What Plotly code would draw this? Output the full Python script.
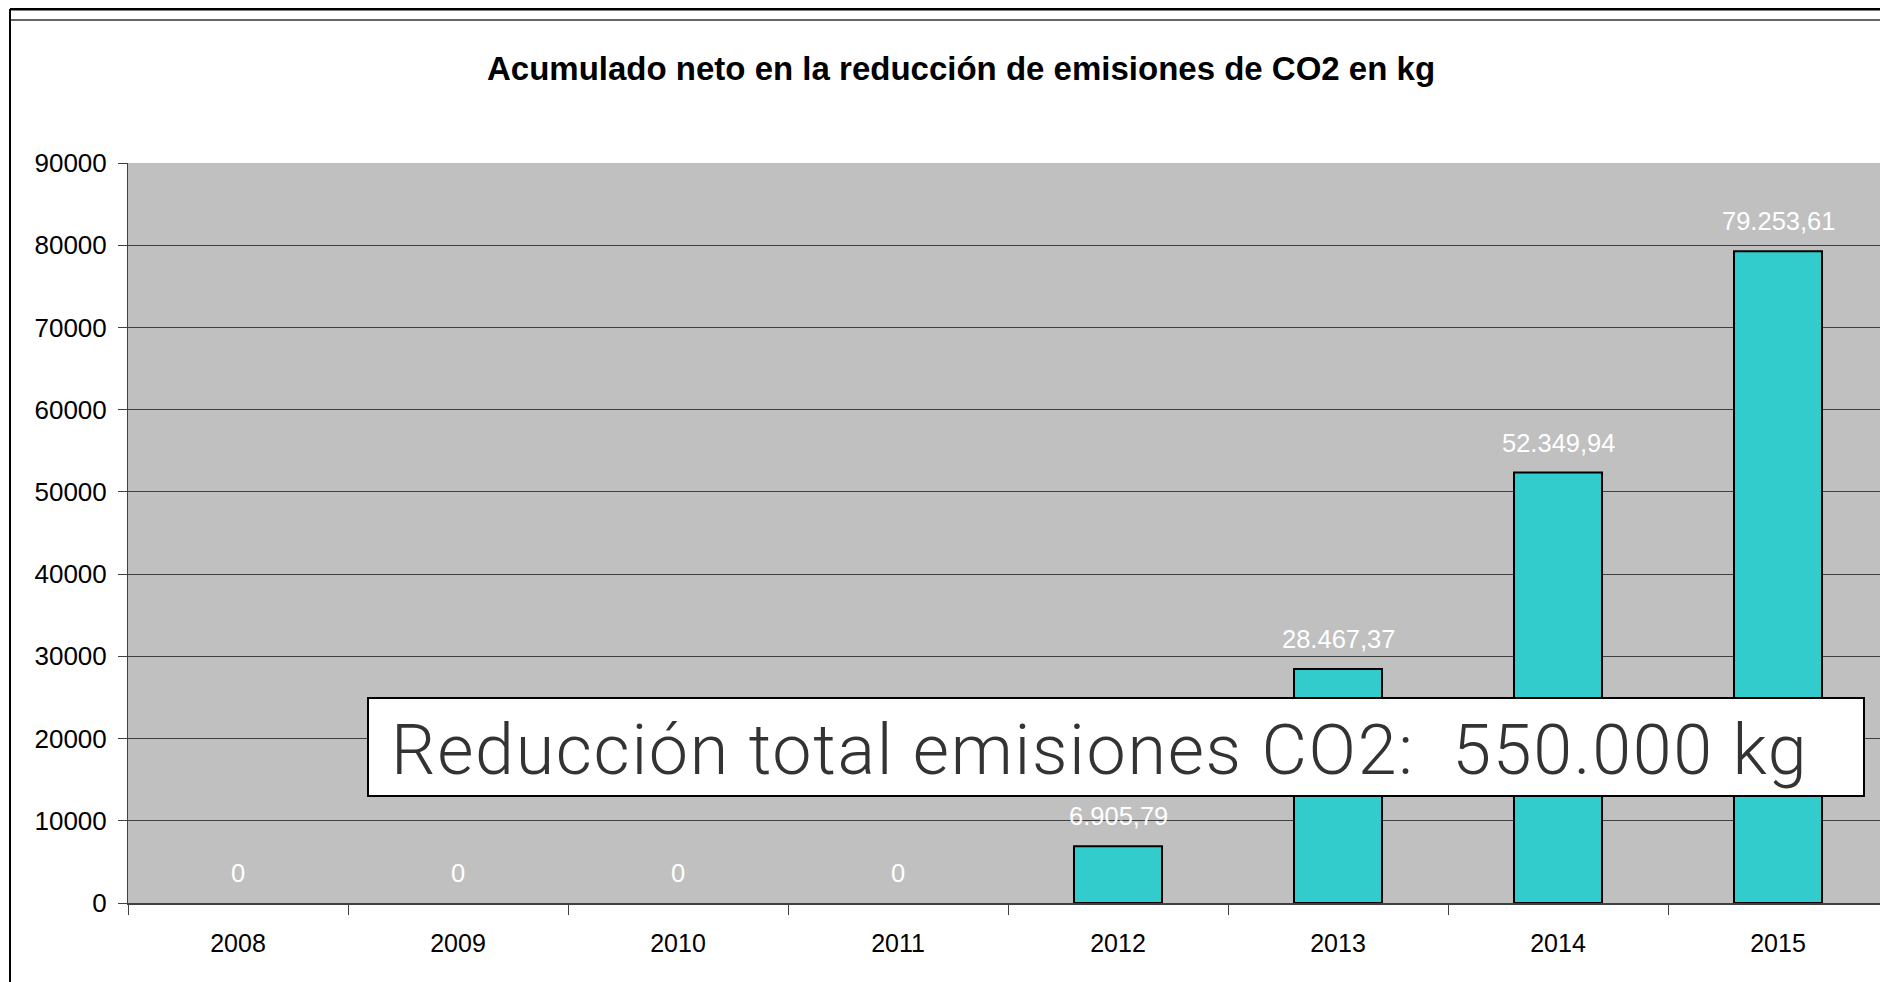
import plotly.graph_objects as go

years = ["2008", "2009", "2010", "2011", "2012", "2013", "2014", "2015"]
values = [0, 0, 0, 0, 6905.79, 28467.37, 52349.94, 79253.61]
title_text = "Acumulado neto en la reducción de emisiones de CO2 en kg"
box_text = "Reducción total emisiones CO2:  550.000 kg"
y_ticks = [0, 10000, 20000, 30000, 40000, 50000, 60000, 70000, 80000, 90000]
y_tick_labels = ["0", "10000", "20000", "30000", "40000", "50000", "60000", "70000", "80000", "90000"]


def es_fmt(v):
    if v == 0:
        return "0"
    s = f"{v:,.2f}"
    return s.replace(",", "X").replace(".", ",").replace("X", ".")


OFF = 8  # page body margin
W, H = 1888 - OFF, 982 - OFF
L, R, T, B = 128 - OFF, 1888 - OFF, 163 - OFF, 903 - OFF


def px(x):
    return (x - OFF - L) / (R - L)


def py(y):
    return (B - (y - OFF)) / (B - T)


fig = go.Figure()
fig.add_trace(go.Bar(
    x=years, y=values, width=0.4,
    marker=dict(color="#33CCCC",
                line=dict(color="black", width=[0 if v == 0 else 2 for v in values])),
    hoverinfo="x+y",
))

for i, v in enumerate(values):
    fig.add_annotation(x=i, y=v, text=es_fmt(v), showarrow=False,
                       yshift=30, yanchor="middle",
                       font=dict(family="Liberation Sans, Arial", size=25.5, color="white"))

# title
fig.add_annotation(x=px(961), y=py(68), xref="paper", yref="paper", text="<b>" + title_text + "</b>",
                   showarrow=False, xanchor="center", yanchor="middle",
                   font=dict(family="Liberation Sans, Arial", size=33, color="black"))

# text box
fig.add_shape(type="rect", xref="paper", yref="paper",
              x0=px(368), x1=px(1864), y0=py(698), y1=py(796),
              fillcolor="white", line=dict(color="black", width=2), layer="above")
fig.add_annotation(x=px(389), y=py(750), xref="paper", yref="paper",
                   text='<span style="letter-spacing:1.7px">' + box_text + '</span>',
                   showarrow=False, xanchor="left", yanchor="middle",
                   font=dict(family="Roboto", size=70, color="#333333", weight=300))

# frame lines
fig.add_shape(type="line", xref="paper", yref="paper", x0=px(10), x1=px(1888), y0=py(9), y1=py(9),
              line=dict(color="black", width=3))
fig.add_shape(type="line", xref="paper", yref="paper", x0=px(10), x1=px(1888), y0=py(20), y1=py(20),
              line=dict(color="#666666", width=2))
fig.add_shape(type="line", xref="paper", yref="paper", x0=px(10), x1=px(10), y0=py(9), y1=py(982),
              line=dict(color="black", width=2))

fig.update_layout(
    width=W, height=H,
    margin=dict(l=L, r=W - R, t=T, b=H - B, autoexpand=False),
    paper_bgcolor="white", plot_bgcolor="#C0C0C0",
    showlegend=False,
    font=dict(family="Liberation Sans, Arial", size=25, color="black"),
    bargap=0.6,
)
fig.update_xaxes(type="category", range=[-0.5, 7.5], tickson="boundaries",
                 ticks="outside", ticklen=10, tickcolor="#404040", tickwidth=1,
                 showline=True, linecolor="#404040", linewidth=2, showgrid=False,
                 tickfont=dict(size=25, color="black"), ticklabelstandoff=17)
fig.update_yaxes(range=[0, 90000], tickvals=y_ticks, ticktext=y_tick_labels, ticks="outside", ticklen=9,
                 tickcolor="#404040", showline=True, linecolor="#404040", linewidth=1,
                 showgrid=True, gridcolor="#404040", gridwidth=1, zeroline=False,
                 tickfont=dict(size=26, color="black"), ticklabelstandoff=6)

fig.write_html("out.html")
